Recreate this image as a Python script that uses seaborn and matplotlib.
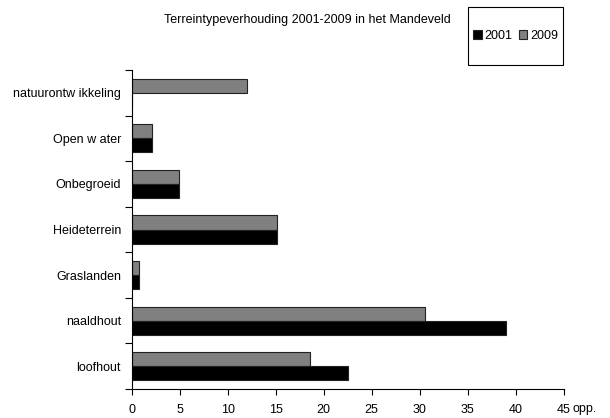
import pandas as pd
import numpy as np
import seaborn as sns
import matplotlib.pyplot as plt
from matplotlib.patches import Patch, Rectangle

# data (area, top to bottom)
categories = ['natuurontw ikkeling', 'Open w ater', 'Onbegroeid', 'Heideterrein',
              'Graslanden', 'naaldhout', 'loofhout']
opp_2001 = [0, 2.1, 4.9, 15.1, 0.75, 39.0, 22.5]
opp_2009 = [12.0, 2.1, 4.9, 15.1, 0.75, 30.6, 18.6]
years = ['2001', '2009']
year_colors = {'2001': '#000000', '2009': '#808080'}
xticks = [0, 5, 10, 15, 20, 25, 30, 35, 40, 45]

df = pd.DataFrame({
    'terrein': categories * 2,
    'opp': opp_2001 + opp_2009,
    'jaar': ['2001'] * len(categories) + ['2009'] * len(categories),
})

sns.set_theme(style='white')
plt.rcParams['font.family'] = ['Liberation Sans', 'DejaVu Sans']
plt.rcParams['font.size'] = 9
plt.rcParams['text.color'] = 'black'
plt.rcParams['xtick.color'] = 'black'
plt.rcParams['ytick.color'] = 'black'

fig = plt.figure(figsize=(6.1, 4.18), dpi=100)
ax = fig.add_axes([0.216, 0.0694, 0.708, 0.7631])

# 2009 drawn above 2001 within each group
sns.barplot(data=df, y='terrein', x='opp', hue='jaar', order=categories,
            hue_order=['2009', '2001'], palette=year_colors, orient='h',
            width=0.62, edgecolor='#222222', linewidth=0.8, ax=ax, legend=False)

ax.set_xlim(0, 45)
ax.set_ylim(len(categories) - 0.5, -0.5)
ax.set_xticks(xticks)
ax.set_xticklabels([str(t) for t in xticks], fontsize=9)
ax.set_xlabel('')
ax.set_ylabel('')
ax.tick_params(axis='y', length=0, pad=7.7, labelsize=9)
ax.set_yticks(np.arange(-0.5, len(categories), 1), minor=True)
ax.tick_params(axis='y', which='minor', length=5, width=0.8, color='black', direction='out', left=True)
ax.tick_params(axis='x', length=4, width=0.8, color='black', direction='out', bottom=True, pad=7)
for s in ['top', 'right']:
    ax.spines[s].set_visible(False)
for s in ['left', 'bottom']:
    ax.spines[s].set_color('black')
    ax.spines[s].set_linewidth(0.8)

fig.text(0.504, 0.952, 'Terreintypeverhouding 2001-2009 in het Mandeveld',
         ha='center', va='center', fontsize=9)
fig.text(0.939, 0.006, 'opp.', ha='left', va='bottom', fontsize=9)

# legend box
fig.patches.append(Rectangle((0.767, 0.844), 0.156, 0.139, transform=fig.transFigure,
                             fill=False, edgecolor='black', linewidth=0.8))
handles = [Patch(facecolor=year_colors[y], edgecolor='#222222', linewidth=0.8) for y in years]
fig.legend(handles, years, loc='center', bbox_to_anchor=(0.845, 0.9135), ncol=2,
           frameon=False, fontsize=9, handlelength=0.7, handleheight=0.7,
           handletextpad=0.2, columnspacing=0.5)

fig.savefig('out.png', dpi=100)
